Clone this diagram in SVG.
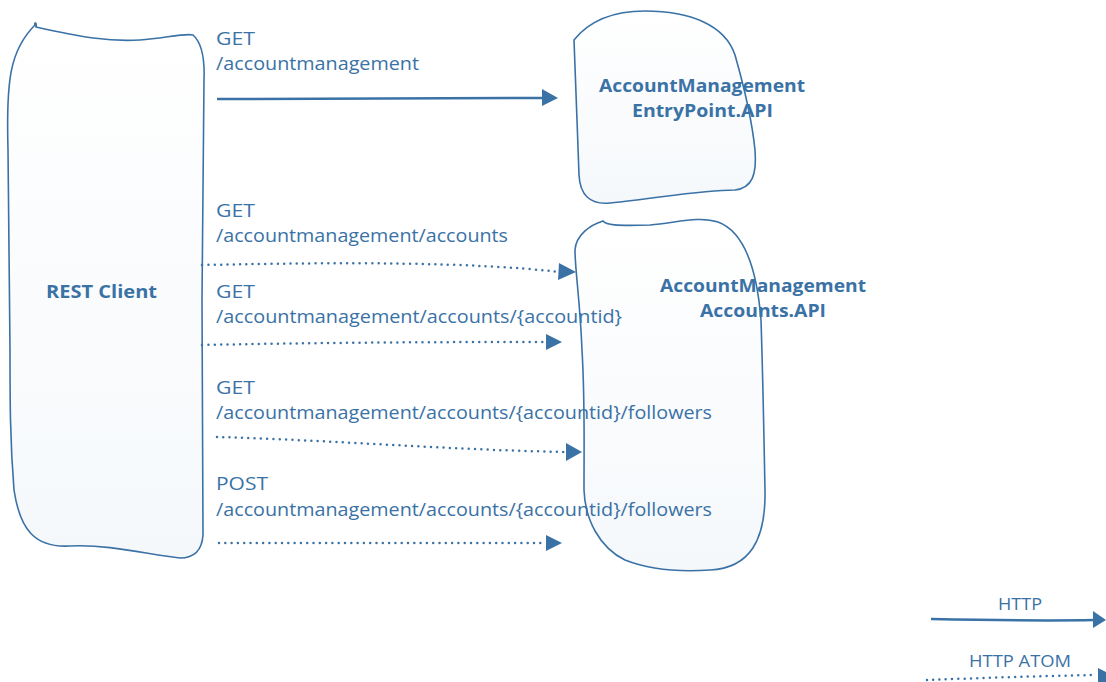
<svg xmlns="http://www.w3.org/2000/svg" width="1106" height="682" viewBox="0 0 1106 682">
<style>
.shape{fill:url(#g);stroke:#3a72a6;stroke-width:1.6}
.lbl{font-family:"Open Sans",Lato,sans-serif;font-size:18px;fill:#3a72a6}
.nl{font-family:"Open Sans",Lato,sans-serif;font-size:18px;font-weight:bold;fill:#3a72a6;text-anchor:middle}
.lg{font-family:"Open Sans",Lato,sans-serif;font-size:16px;fill:#3a72a6;text-anchor:middle}
.solid{fill:none;stroke:#3a72a6;stroke-width:2.5}
.dot{fill:none;stroke:#3a72a6;stroke-width:2.5;stroke-linecap:round;stroke-dasharray:0 6.3}
.head{fill:#3a72a6}
</style>
<defs>
<linearGradient id="g" x1="0" y1="0" x2="0" y2="1">
<stop offset="0" stop-color="#ffffff"/>
<stop offset="1" stop-color="#f5f8fb"/>
</linearGradient>
</defs>
<g id="rest-client">
<path class="shape" d="M36,27 C80,37 110,42 140,40 C165,38 185,33 193,35 C201,42 205,55 204,80 L202,300 L203,535 C202,550 195,558 180,558 C150,555 110,544 70,546 C35,548 20,530 14,490 C10,440 10,400 10,350 L8,150 C6,80 10,50 35,25 C34,22 37,22 36,27 Z"/>
<text class="nl" x="101.5" y="298" textLength="111" lengthAdjust="spacingAndGlyphs">REST Client</text>
</g>
<g id="entrypoint-api">
<path class="shape" d="M574,40 C590,20 615,11 645,11 C690,11 725,25 735,55 C745,90 752,120 755,150 C757,175 752,188 735,190 C700,190 660,198 610,203 C590,205 580,195 579,175 L577,120 Z"/>
<text class="nl" x="702" y="92" textLength="206" lengthAdjust="spacingAndGlyphs">AccountManagement</text>
<text class="nl" x="702.5" y="117" textLength="141" lengthAdjust="spacingAndGlyphs">EntryPoint.API</text>
</g>
<g id="accounts-api">
<path class="shape" d="M603,221 C606,225 615,226 650,225 C680,222 700,216 718,222 C745,232 757,270 761,320 C763,380 764,440 765,490 C766,540 750,568 710,570 C680,572 650,570 625,560 C600,548 585,520 584,490 C584,440 585,400 582,350 C580,300 575,270 575,250 C576,235 590,225 603,221 Z"/>
<text class="nl" x="763" y="292" textLength="206" lengthAdjust="spacingAndGlyphs">AccountManagement</text>
<text class="nl" x="763" y="317" textLength="126" lengthAdjust="spacingAndGlyphs">Accounts.API</text>
</g>
<g id="connectors">
<path class="solid" d="M217,99 L545,98"/>
<polygon class="head" points="542,89 558,98 542,106"/>
<text class="lbl" x="216" y="45" textLength="39" lengthAdjust="spacingAndGlyphs">GET</text>
<text class="lbl" x="216" y="70" textLength="203" lengthAdjust="spacingAndGlyphs">/accountmanagement</text>

<path class="dot" d="M202,265 C350,262 470,262 560,272"/>
<polygon class="head" points="559,263 576,272 558,280"/>
<text class="lbl" x="216" y="217" textLength="39" lengthAdjust="spacingAndGlyphs">GET</text>
<text class="lbl" x="216" y="242" textLength="292" lengthAdjust="spacingAndGlyphs">/accountmanagement/accounts</text>

<path class="dot" d="M202,345 C350,342 470,342 548,342"/>
<polygon class="head" points="546,334 562,342 546,350"/>
<text class="lbl" x="216" y="298" textLength="39" lengthAdjust="spacingAndGlyphs">GET</text>
<text class="lbl" x="216" y="323" textLength="406" lengthAdjust="spacingAndGlyphs">/accountmanagement/accounts/{accountid}</text>

<path class="dot" d="M217,437 C330,440 450,450 566,452"/>
<polygon class="head" points="566,443 582,452 566,461"/>
<text class="lbl" x="216" y="394" textLength="39" lengthAdjust="spacingAndGlyphs">GET</text>
<text class="lbl" x="216" y="419" textLength="496" lengthAdjust="spacingAndGlyphs">/accountmanagement/accounts/{accountid}/followers</text>

<path class="dot" d="M219,543 L546,543"/>
<polygon class="head" points="546,535 562,543 546,551"/>
<text class="lbl" x="216" y="490" textLength="52" lengthAdjust="spacingAndGlyphs">POST</text>
<text class="lbl" x="216" y="516" textLength="496" lengthAdjust="spacingAndGlyphs">/accountmanagement/accounts/{accountid}/followers</text>

<path class="solid" d="M931,619 C980,620 1040,621 1094,620"/>
<polygon class="head" points="1093,611 1106,620 1093,628"/>
<text class="lg" x="1020" y="610" textLength="44" lengthAdjust="spacingAndGlyphs">HTTP</text>
<path class="dot" d="M927,680 C980,678 1040,676 1096,675"/>
<polygon class="head" points="1098,668 1106,672 1106,682 1098,682"/>
<text class="lg" x="1020" y="667" textLength="102" lengthAdjust="spacingAndGlyphs">HTTP ATOM</text>
</g>
</svg>
